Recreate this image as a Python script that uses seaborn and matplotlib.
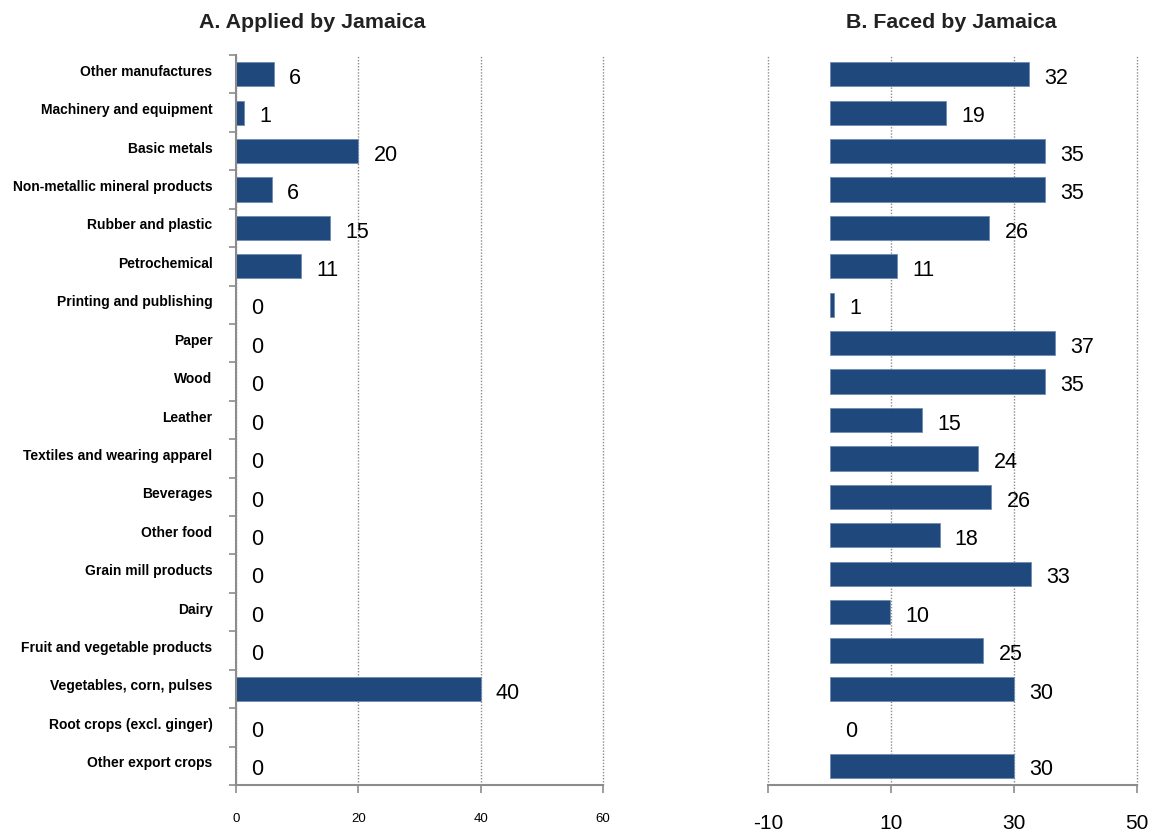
import matplotlib.pyplot as plt
import matplotlib.ticker as mticker
import matplotlib.transforms as mtransforms
import pandas as pd
import numpy as np
import seaborn as sns

sns.set_theme(style="white")
plt.rcParams["font.family"] = ["Liberation Sans", "DejaVu Sans"]
plt.rcParams["axes.unicode_minus"] = False

categories = [
    "Other manufactures", "Machinery and equipment", "Basic metals",
    "Non-metallic mineral products", "Rubber and plastic", "Petrochemical",
    "Printing and publishing", "Paper", "Wood", "Leather",
    "Textiles and wearing apparel", "Beverages", "Other food",
    "Grain mill products", "Dairy", "Fruit and vegetable products",
    "Vegetables, corn, pulses", "Root crops (excl. ginger)", "Other export crops",
]
applied = [6.2, 1.3, 20.0, 5.9, 15.4, 10.6, 0, 0, 0, 0, 0, 0, 0, 0, 0, 0, 40.0, 0, 0]
faced = [32.4, 18.9, 35.1, 35.1, 26.0, 11.0, 0.8, 36.7, 35.1, 15.1, 24.2, 26.3,
         17.9, 32.7, 9.9, 25.0, 30.0, 0, 30.0]

bar_color = "#1F497D"
grey = "#8C8C8C"

df = pd.DataFrame({"sector": categories, "applied": applied, "faced": faced})

fig = plt.figure(figsize=(11.54, 8.34), dpi=100)
ax1 = fig.add_axes([236 / 1154, 1 - 785 / 834, (603 - 236) / 1154, 730 / 834])
ax2 = fig.add_axes([768 / 1154, 1 - 785 / 834, (1137 - 768) / 1154, 730 / 834])

for ax, col, lim, ticks, tsize, tpad in [
    (ax1, "applied", (0, 60), [0, 20, 40, 60], 9.5, 14),
    (ax2, "faced", (-10, 50), [-10, 10, 30, 50], 15, 15),
]:
    sns.barplot(data=df, y="sector", x=col, orient="h", color=bar_color,
                saturation=1, width=0.63, edgecolor="#6f8bb3", linewidth=0.6, ax=ax)
    for p in ax.patches:
        if p.get_width() == 0:
            p.set_linewidth(0)
    vals = df[col].values
    for i, v in enumerate(vals):
        ax.annotate(f"{v:.0f}", (v, i), xytext=(11, -3), textcoords="offset points",
                    va="center", ha="left", fontsize=15.5, color="black")
    ax.set_xlim(*lim)
    ax.set_ylim(len(categories) - 0.5, -0.5)
    ax.set_xticks(ticks)
    ax.set_xlabel("")
    ax.set_ylabel("")
    ax.xaxis.grid(True, linestyle=(0, (1, 1.2)), color=grey, linewidth=1)
    for gl in ax.get_xgridlines():
        gl.set_clip_on(False)
    ax.yaxis.grid(False)
    ax.set_axisbelow(True)
    for s in ["top", "right"]:
        ax.spines[s].set_visible(False)
    ax.spines["bottom"].set_color(grey)
    ax.spines["bottom"].set_linewidth(1.5)
    ax.tick_params(axis="x", bottom=True, length=6, width=1.2, color=grey,
                   labelsize=tsize, pad=tpad, labelcolor="black")

# left panel: category labels and separators
ax1.spines["left"].set_color(grey)
ax1.spines["left"].set_linewidth(1.5)
ax1.yaxis.set_minor_locator(mticker.FixedLocator(np.arange(-0.5, len(categories), 1)))
ax1.tick_params(axis="y", which="major", length=0, labelsize=10, pad=17, labelcolor="black")
ax1.tick_params(axis="y", which="minor", left=True, length=5, width=1.2, color=grey)
shift_up = mtransforms.ScaledTranslation(0, 4 / 100, fig.dpi_scale_trans)
for lbl in ax1.get_yticklabels():
    lbl.set_fontweight("bold")
    lbl.set_transform(lbl.get_transform() + shift_up)

# right panel: no category labels
ax2.spines["left"].set_visible(False)
ax2.set_yticks([])

fig.text(312 / 1154, 1 - 23 / 834, "A. Applied by Jamaica", ha="center", va="center",
         fontsize=15.4, fontweight="bold", color="#222222")
fig.text(951 / 1154, 1 - 23 / 834, "B. Faced by Jamaica", ha="center", va="center",
         fontsize=15.4, fontweight="bold", color="#222222")

fig.savefig("out.png", dpi=100)
